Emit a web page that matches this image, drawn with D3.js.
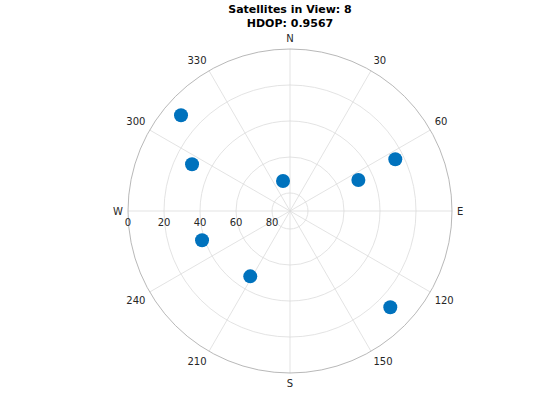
<!DOCTYPE html>
<html><head><meta charset="utf-8">
<script src="https://cdn.jsdelivr.net/npm/d3@7"></script>
<style>body{margin:0;background:#fff;}text{font-family:"DejaVu Sans",sans-serif;}</style>
</head><body><svg id="c" width="560" height="420"></svg>
<script>
const titleLines = ["Satellites in View: 8", "HDOP: 0.9567"];
const azimuths = [311.3, 295.5, 346.9, 65.6, 63.8, 251.6, 211.3, 133.8];
const elevations = [9.4, 29.7, 72.9, 48.3, 24.8, 38.5, 47.5, 12.8];
const elevTicks = [0, 20, 40, 60, 80];
const azTicks = [0, 30, 60, 90, 120, 150, 180, 210, 240, 270, 300, 330];
const azLabels = ["N", "30", "60", "E", "120", "150", "S", "210", "240", "W", "300", "330"];

const svg = d3.select("#c");
const cx = 290, cy = 211, R = 162;
const rScale = d3.scaleLinear().domain([90, 0]).range([0, R]);
const aScale = d3.scaleLinear().domain([0, 360]).range([0, 2 * Math.PI]);
const g = svg.append("g").attr("transform", `translate(${cx},${cy})`);
const pt = (az, r) => [r * Math.sin(aScale(az)), -r * Math.cos(aScale(az))];

// rings
g.selectAll("circle.ring").data(elevTicks.filter(d => d > 0)).join("circle")
  .attr("r", d => rScale(d)).attr("fill", "none").attr("stroke", "#dcdcdc").attr("stroke-width", 0.8);
// spokes
g.selectAll("line.spoke").data(azTicks).join("line")
  .attr("x1", 0).attr("y1", 0)
  .attr("x2", d => pt(d, R)[0]).attr("y2", d => pt(d, R)[1])
  .attr("stroke", "#dcdcdc").attr("stroke-width", 0.8);
// outer
g.append("circle").attr("r", R).attr("fill", "none").attr("stroke", "#a6a6a6").attr("stroke-width", 0.8);

// elevation labels
g.selectAll("text.el").data(elevTicks).join("text")
  .attr("x", d => -rScale(d)).attr("y", 15)
  .attr("text-anchor", "middle").attr("font-size", 10).attr("fill", "#262626")
  .text(d => d);
// azimuth labels, aligned outward like MATLAB
const LR = R + 5;
g.selectAll("text.az").data(azTicks).join("text")
  .attr("x", d => pt(d, LR)[0]).attr("y", d => pt(d, LR)[1])
  .attr("dy", d => { const c = Math.cos(aScale(d)); return c > 0.01 ? "-0.25em" : (c < -0.01 ? "0.93em" : "0.35em"); })
  .attr("text-anchor", d => { const s = Math.sin(aScale(d)); return s > 0.01 ? "start" : (s < -0.01 ? "end" : "middle"); })
  .attr("font-size", 10).attr("fill", "#262626")
  .text((d, i) => azLabels[i]);

// satellites
g.selectAll("circle.sat").data(azimuths).join("circle")
  .attr("cx", (d, i) => pt(d, rScale(elevations[i]))[0])
  .attr("cy", (d, i) => pt(d, rScale(elevations[i]))[1])
  .attr("r", 7).attr("fill", "#0072BD");

// title
svg.selectAll("text.title").data(titleLines).join("text")
  .attr("x", cx).attr("y", (d, i) => 13 + i * 13.5)
  .attr("text-anchor", "middle").attr("font-size", 11).attr("font-weight", "bold").attr("fill", "#000")
  .text(d => d);
</script></body></html>
